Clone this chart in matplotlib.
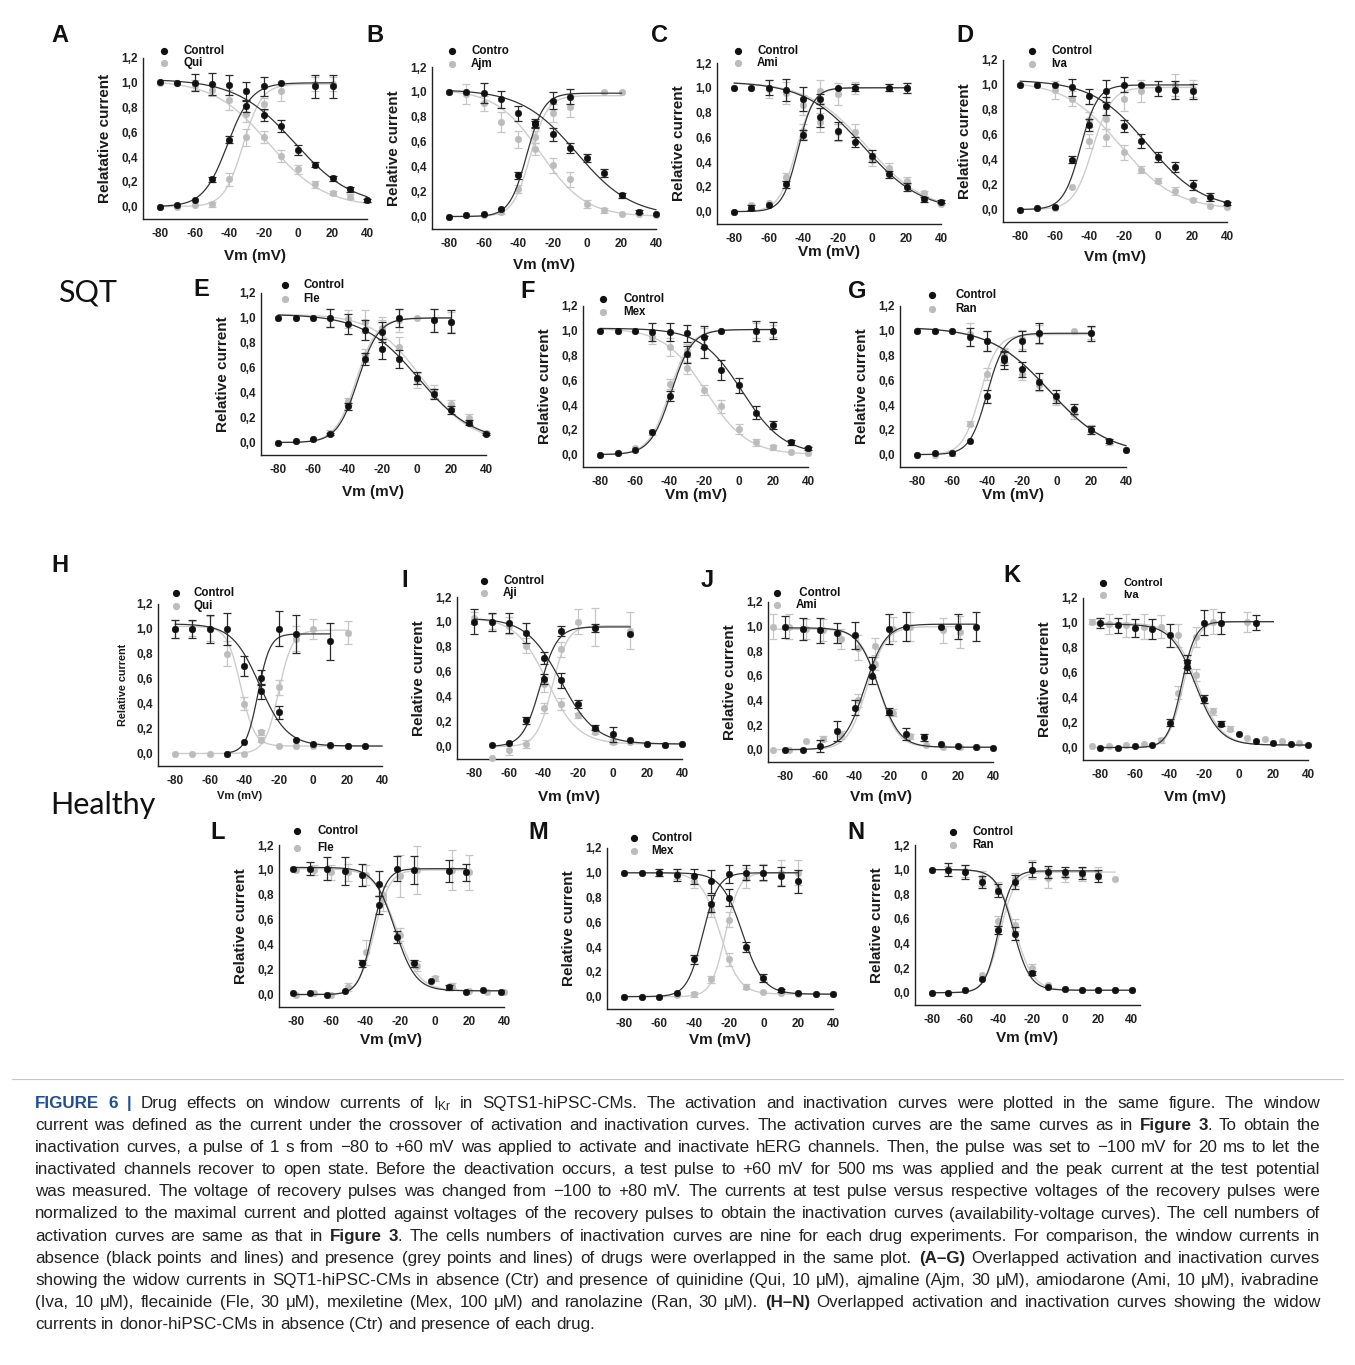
import numpy as np
import matplotlib
matplotlib.use("Agg")
import matplotlib.pyplot as plt
from matplotlib.lines import Line2D

plt.rcParams['font.family'] = ['Liberation Sans', 'DejaVu Sans']
plt.rcParams['mathtext.fontset'] = 'custom'
plt.rcParams['mathtext.rm'] = 'Liberation Sans'
plt.rcParams['mathtext.it'] = 'Liberation Sans:italic'
plt.rcParams['mathtext.bf'] = 'Liberation Sans:bold'

# ---------------- data ----------------
V13 = [-80, -70, -60, -50, -40, -30, -20, -10, 0, 10, 20, 30, 40]
J_v_drg = [-87, -78, -68, -58, -48, -38, -28, -18, -8, 1, 11, 21, 31]
K_v_drg = [-85, -75, -65, -55, -45, -35, -25, -15, -5, 5, 15, 25, 35]
L_v_ctl = [-82, -72, -62, -52, -42, -32, -22, -12, -2, 8, 18, 28, 38]

X_TICKS = [-80, -60, -40, -20, 0, 20, 40]
X_TICK_LABELS = ['-80', '-60', '-40', '-20', '0', '20', '40']
Y_TICKS = [0.0, 0.2, 0.4, 0.6, 0.8, 1.0, 1.2]
Y_TICK_LABELS = ['0,0', '0,2', '0,4', '0,6', '0,8', '1,0', '1,2']

LETTERS = ['A', 'B', 'C', 'D', 'E', 'F', 'G', 'H', 'I', 'J', 'K', 'L', 'M', 'N']
DRUG_LABELS = ['Qui', 'Ajm', 'Ami', 'Iva', 'Fle', 'Mex', 'Ran',
               'Qui', 'Aji', 'Ami', 'Iva', 'Fle', 'Mex', 'Ran']
CTRL_LABELS = ['Control', 'Contro', 'Control', 'Control', 'Control', 'Control', 'Control',
               'Control', 'Control', ' Control', 'Control', 'Control', 'Control', 'Control']
Y_LABELS = ['Relatative current'] + ['Relative current'] * 13

# Panel A (SQT, quinidine)
A_ctl_act = [0.00, 0.01, 0.05, 0.22, 0.54, 0.81, 0.97, 1.00, None, 0.97, 0.97, None, None]
A_ctl_act_err = [0, 0, 0, 0.02, 0.03, 0.05, 0.08, 0, 0, 0.09, 0.09, 0, 0]
A_ctl_inact = [1.01, 1.00, 1.00, 0.99, 0.98, 0.93, 0.74, 0.65, 0.46, 0.34, 0.23, 0.14, 0.05]
A_ctl_inact_err = [0, 0, 0.07, 0.09, 0.08, 0.08, 0.05, 0.05, 0.04, 0.02, 0.02, 0.02, 0.01]
A_drg_act = [0.00, 0.00, 0.01, 0.02, 0.22, 0.56, 0.83, 0.93, None, 0.99, 0.99, None, None]
A_drg_act_err = [0, 0, 0, 0.02, 0.05, 0.07, 0.05, 0.08, 0, 0.06, 0.06, 0, 0]
A_drg_inact = [1.00, 1.00, 0.98, 0.94, 0.86, 0.75, 0.56, 0.41, 0.30, 0.18, 0.11, 0.08, 0.05]
A_drg_inact_err = [0, 0, 0.04, 0.05, 0.08, 0.07, 0.05, 0.05, 0.04, 0.03, 0.02, 0.02, 0.01]
A_fits = [[-41, -7, 0, 1.00, -80, 20], [-2, 17, 0, 1.03, -80, 40],
          [-32, -5.5, 0, 0.99, -80, 20], [-17, 16, 0, 1.02, -80, 40]]

# Panel B (ajmaline)
B_ctl_act = [0.00, 0.01, 0.02, 0.06, 0.33, 0.74, 0.93, 0.96, None, None, None, None, None]
B_ctl_act_err = [0, 0, 0, 0, 0.03, 0.03, 0.07, 0.06, 0, 0, 0, 0, 0]
B_ctl_inact = [1.00, 1.00, 0.99, 0.94, 0.83, 0.75, 0.66, 0.55, 0.47, 0.35, 0.17, 0.04, 0.02]
B_ctl_inact_err = [0, 0, 0.08, 0.07, 0.06, 0.03, 0.05, 0.04, 0.03, 0.03, 0.02, 0.01, 0]
B_drg_act = [0.00, 0.01, 0.01, 0.04, 0.22, 0.64, 0.83, 0.88, None, 1.00, 1.00, None, None]
B_drg_act_err = [0, 0, 0, 0.02, 0.03, 0.05, 0.07, 0.08, 0, 0, 0, 0, 0]
B_drg_inact = [1.00, 0.98, 0.91, 0.76, 0.62, 0.54, 0.41, 0.30, 0.10, 0.05, 0.02, 0.02, 0.01]
B_drg_inact_err = [0, 0.08, 0.06, 0.08, 0.07, 0.05, 0.06, 0.06, 0.03, 0.02, 0, 0, 0]
B_fits = [[-35, -5, 0, 0.99, -80, 20], [-6, 16, 0, 1.02, -80, 40],
          [-33, -5, 0, 0.97, -80, 20], [-27, 13, 0, 1.02, -80, 40]]

# Panel C (amiodarone)
C_ctl_act = [0.00, 0.03, 0.05, 0.22, 0.62, 0.91, 1.00, 1.00, None, 1.00, 1.00, None, None]
C_ctl_act_err = [0, 0.02, 0, 0.03, 0.04, 0.04, 0, 0.03, 0, 0.03, 0.04, 0, 0]
C_ctl_inact = [1.00, 1.00, 1.00, 0.98, 0.91, 0.76, 0.65, 0.56, 0.45, 0.30, 0.20, 0.10, 0.08]
C_ctl_inact_err = [0, 0, 0.06, 0.09, 0.10, 0.08, 0.07, 0.04, 0.05, 0.03, 0.03, 0.02, 0.01]
C_drg_act = [0.00, 0.05, 0.07, 0.28, 0.65, 0.97, 0.95, 1.00, None, 1.00, 1.00, None, None]
C_drg_act_err = [0, 0, 0, 0.03, 0.06, 0.09, 0.09, 0.05, 0, 0.03, 0.04, 0, 0]
C_drg_inact = [1.00, 1.00, 0.99, 0.96, 0.86, 0.72, 0.64, 0.64, 0.42, 0.35, 0.25, 0.15, 0.06]
C_drg_inact_err = [0, 0, 0.07, 0.09, 0.08, 0.08, 0.07, 0.07, 0.05, 0.04, 0.03, 0.02, 0.01]
C_fits = [[-43, -4.5, 0, 1.00, -80, 20], [-5, 17, 0, 1.05, -80, 40],
          [-44, -5, 0, 1.00, -80, 20], [-3, 17, 0, 1.05, -80, 40]]

# Panel D (ivabradine)
D_ctl_act = [0.00, 0.01, 0.02, 0.40, 0.68, 0.95, 1.00, 1.00, 0.97, 0.96, 0.95, None, None]
D_ctl_act_err = [0, 0, 0, 0.03, 0.05, 0.09, 0.06, 0, 0.06, 0.07, 0.06, 0, 0]
D_ctl_inact = [1.00, 1.00, 1.00, 0.98, 0.91, 0.83, 0.67, 0.55, 0.42, 0.34, 0.20, 0.10, 0.05]
D_ctl_inact_err = [0, 0, 0, 0.07, 0.06, 0.07, 0.05, 0.06, 0.04, 0.04, 0.04, 0.03, 0.01]
D_drg_act = [0.00, 0.01, 0.01, 0.18, 0.55, 0.73, 0.89, 0.95, None, 1.00, 0.97, None, None]
D_drg_act_err = [0, 0, 0, 0, 0.06, 0.08, 0.10, 0.09, 0, 0.09, 0.07, 0, 0]
D_drg_inact = [1.00, 1.00, 0.96, 0.89, 0.72, 0.58, 0.46, 0.32, 0.23, 0.15, 0.08, 0.03, 0.02]
D_drg_inact_err = [0, 0, 0.07, 0.06, 0.06, 0.07, 0.06, 0.03, 0.02, 0.03, 0.01, 0, 0]
D_fits = [[-45, -5, 0, 1.00, -80, 20], [-6, 16, 0, 1.04, -80, 40],
          [-38, -5.5, 0, 0.98, -80, 20], [-22, 16, 0, 1.03, -80, 40]]

# Panel E (flecainide)
E_ctl_act = [0.00, 0.01, 0.03, 0.07, 0.29, 0.67, 0.89, 1.00, None, 0.98, 0.97, None, None]
E_ctl_act_err = [0, 0, 0, 0.01, 0.03, 0.05, 0.08, 0.07, 0, 0.09, 0.09, 0, 0]
E_ctl_inact = [1.00, 1.00, 1.00, 1.00, 0.95, 0.90, 0.75, 0.67, 0.52, 0.39, 0.26, 0.16, 0.07]
E_ctl_inact_err = [0, 0, 0, 0.07, 0.08, 0.08, 0.08, 0.07, 0.05, 0.04, 0.03, 0.02, 0.01]
E_drg_act = [0.00, 0.01, 0.03, 0.08, 0.33, 0.70, 0.92, 0.98, 1.00, 0.98, 0.97, None, None]
E_drg_act_err = [0, 0, 0, 0.02, 0.03, 0.05, 0.09, 0.09, 0, 0.09, 0.08, 0, 0]
E_drg_inact = [1.00, 1.00, 1.00, 1.00, 0.99, 0.97, 0.90, 0.77, 0.50, 0.41, 0.31, 0.20, 0.08]
E_drg_inact_err = [0, 0, 0, 0.07, 0.07, 0.09, 0.08, 0.08, 0.06, 0.05, 0.03, 0.03, 0.01]
E_fits = [[-34, -6, 0, 1.00, -80, 20], [1, 16, 0, 1.03, -80, 40],
          [-35, -6, 0, 1.00, -80, 20], [3, 14, 0, 1.03, -80, 40]]

# Panel F (mexiletine)
F_ctl_act = [0.00, 0.01, 0.04, 0.18, 0.47, 0.81, 0.95, 1.00, None, 1.00, 1.00, None, None]
F_ctl_act_err = [0, 0, 0, 0, 0.04, 0.07, 0.09, 0, 0, 0.08, 0.07, 0, 0]
F_ctl_inact = [1.00, 1.00, 1.00, 0.99, 0.99, 0.98, 0.87, 0.68, 0.56, 0.34, 0.24, 0.10, 0.05]
F_ctl_inact_err = [0, 0, 0, 0.07, 0.07, 0.07, 0.09, 0.08, 0.06, 0.05, 0.03, 0.02, 0.01]
F_drg_act = [0.00, 0.01, 0.05, 0.18, 0.57, 0.84, 0.95, 1.00, None, 1.00, 1.00, None, None]
F_drg_act_err = [0, 0, 0, 0.02, 0.04, 0.05, 0.07, 0, 0, 0.06, 0.05, 0, 0]
F_drg_inact = [1.00, 1.00, 1.00, 0.95, 0.87, 0.70, 0.52, 0.39, 0.21, 0.10, 0.06, 0.02, 0.01]
F_drg_inact_err = [0, 0, 0, 0.06, 0.07, 0.05, 0.04, 0.05, 0.04, 0.03, 0.02, 0, 0]
F_fits = [[-39, -6, 0, 1.01, -80, 20], [2, 12, 0, 1.02, -80, 40],
          [-40, -6, 0, 1.01, -80, 20], [-19, 12, 0, 1.02, -80, 40]]

# Panel G (ranolazine)
G_ctl_act = [0.00, 0.01, 0.01, 0.11, 0.47, 0.76, 0.92, 0.98, None, None, 0.98, None, None]
G_ctl_act_err = [0, 0, 0, 0, 0.05, 0.07, 0.08, 0.08, 0, 0, 0.06, 0, 0]
G_ctl_inact = [1.00, 1.00, 1.00, 0.95, 0.92, 0.78, 0.69, 0.59, 0.47, 0.37, 0.20, 0.11, 0.04]
G_ctl_inact_err = [0, 0, 0, 0.07, 0.08, 0.06, 0.06, 0.07, 0.05, 0.04, 0.03, 0.02, 0]
G_drg_act = [0.00, 0.00, 0.01, 0.25, 0.65, 0.80, 0.93, 0.97, None, 1.00, 0.98, None, None]
G_drg_act_err = [0, 0, 0.02, 0.02, 0.05, 0.06, 0.08, 0.08, 0, 0, 0.05, 0, 0]
G_drg_inact = [1.00, 1.00, 1.00, 0.97, 0.92, 0.80, 0.65, 0.56, 0.45, 0.33, 0.21, 0.10, 0.04]
G_drg_inact_err = [0, 0, 0, 0.09, 0.08, 0.05, 0.05, 0.05, 0.05, 0.04, 0.03, 0.02, 0]
G_fits = [[-40, -5, 0, 0.98, -80, 20], [-4, 17, 0, 1.03, -80, 40],
          [-44, -5, 0, 0.97, -80, 20], [-4, 17, 0, 1.03, -80, 40]]

# Panel H (healthy, quinidine)
H_ctl_act = [None, None, None, 0.00, 0.09, 0.61, 1.00, 0.96, None, 0.90, None, None, None]
H_ctl_act_err = [0, 0, 0, 0, 0, 0.06, 0.14, 0.15, 0, 0.15, 0, 0, 0]
H_ctl_inact = [1.00, 1.00, 1.00, 1.00, 0.70, 0.50, 0.33, 0.11, 0.08, 0.07, 0.06, 0.06, None]
H_ctl_inact_err = [0.07, 0.07, 0.11, 0.13, 0.08, 0.06, 0.05, 0, 0, 0, 0, 0, 0]
H_drg_act = [0.00, 0.00, 0.00, 0.00, 0.00, 0.11, 0.53, 0.92, 1.00, None, 0.97, None, None]
H_drg_act_err = [0, 0, 0, 0, 0, 0.02, 0.06, 0.10, 0.08, 0, 0.09, 0, 0]
H_drg_inact = [1.00, 1.00, 1.00, 0.80, 0.40, 0.17, 0.06, 0.06, 0.06, 0.06, 0.06, 0.06, None]
H_drg_inact_err = [0.07, 0.06, 0.10, 0.10, 0.05, 0.02, 0, 0, 0, 0, 0, 0, 0]
H_fits = [[-32, -3.5, 0, 0.96, -50, 10], [-31, 8, 0.06, 1.04, -80, 40],
          [-20, -4, 0, 0.99, -80, 20], [-42, 4, 0.06, 1.02, -80, 40]]

# Panel I (ajmaline)
I_ctl_act = [None, 0.01, 0.03, 0.21, 0.54, 0.93, None, 0.95, None, 0.90, None, None, None]
I_ctl_act_err = [0, 0, 0, 0.03, 0.04, 0.04, 0, 0.03, 0, 0, 0, 0, 0]
I_ctl_inact = [1.00, 1.00, 0.99, 0.91, 0.71, 0.53, 0.34, 0.15, 0.10, 0.05, 0.02, 0.01, 0.02]
I_ctl_inact_err = [0.10, 0.07, 0.08, 0.08, 0.05, 0.06, 0.03, 0.02, 0.06, 0, 0, 0, 0]
I_drg_act = [None, -0.09, -0.03, 0.02, 0.31, 0.78, 1.00, 0.96, None, 0.93, None, None, None]
I_drg_act_err = [0, 0, 0.04, 0.03, 0.04, 0.06, 0.10, 0.15, 0, 0.15, 0, 0, 0]
I_drg_inact = [1.03, 1.00, 0.97, 0.81, 0.50, 0.34, 0.25, 0.12, 0.04, 0.04, 0.02, 0.01, 0.02]
I_drg_inact_err = [0.05, 0.06, 0.07, 0.06, 0.06, 0.05, 0.02, 0.02, 0.02, 0, 0, 0, 0]
I_fits = [[-42, -5, 0, 0.96, -70, 10], [-30, 10, 0.02, 1.03, -80, 40],
          [-35, -4.5, 0, 0.97, -70, 10], [-38, 9, 0.02, 1.03, -80, 40]]

# Panel J (amiodarone)
J_ctl_act = [0.00, 0.00, 0.03, 0.15, 0.34, 0.60, 0.98, 1.00, None, 1.00, 1.00, 1.00, None]
J_ctl_act_err = [0, 0, 0.05, 0.08, 0.06, 0.07, 0.12, 0.12, 0, 0, 0.10, 0.12, 0]
J_ctl_inact = [1.00, 0.98, 0.97, 0.95, 0.93, 0.67, 0.31, 0.13, 0.10, 0.05, 0.03, 0.02, 0.01]
J_ctl_inact_err = [0.09, 0.09, 0.10, 0.08, 0.11, 0.08, 0.03, 0.05, 0.03, 0, 0, 0, 0]
J_drg_act = [0.00, 0.00, 0.07, 0.09, 0.12, 0.40, 0.84, 0.98, 1.00, None, 0.97, 0.96, None]
J_drg_act_err = [0, 0, 0, 0.02, 0.03, 0.05, 0.07, 0.10, 0.12, 0, 0.10, 0.13, 0]
J_drg_inact = [1.00, 1.00, 0.98, 0.97, 0.90, 0.83, 0.70, 0.30, 0.11, 0.04, 0.02, 0.02, 0.02]
J_drg_inact_err = [0.10, 0.10, 0.08, 0.09, 0.08, 0.10, 0.05, 0.03, 0.02, 0, 0, 0, 0]
J_fits = [[-34, -6, 0, 1.02, -80, 30], [-26, 6, 0.02, 0.99, -80, 40],
          [-33, -5.5, 0, 1.00, -87, 21], [-26, 5.5, 0.02, 0.98, -87, 40]]

# Panel K (ivabradine)
K_ctl_act = [0.00, 0.00, 0.01, 0.02, 0.20, 0.65, 1.00, 1.00, None, 1.00, None, None, None]
K_ctl_act_err = [0, 0, 0, 0, 0.03, 0.05, 0.10, 0.09, 0, 0.06, 0, 0, 0]
K_ctl_inact = [1.00, 0.98, 0.96, 0.95, 0.90, 0.69, 0.39, 0.19, 0.11, 0.05, 0.04, 0.03, 0.02]
K_ctl_inact_err = [0.04, 0.06, 0.07, 0.08, 0.09, 0.05, 0.03, 0.02, 0, 0, 0, 0, 0]
K_drg_act = [0.01, 0.01, 0.02, 0.03, 0.06, 0.44, 0.89, 1.01, None, 1.01, None, None, None]
K_drg_act_err = [0, 0, 0, 0, 0.02, 0.05, 0.08, 0.10, 0, 0.08, 0, 0, 0]
K_drg_inact = [1.01, 0.99, 0.98, 0.97, 0.97, 0.90, 0.58, 0.29, 0.15, 0.08, 0.07, 0.05, 0.04]
K_drg_inact_err = [0.02, 0.08, 0.09, 0.10, 0.09, 0.09, 0.05, 0.03, 0.02, 0, 0, 0, 0]
K_fits = [[-33, -4, 0, 1.01, -80, 20], [-25, 7, 0.02, 0.99, -80, 40],
          [-32, -4.2, 0, 1.01, -85, 20], [-24, 7, 0.02, 1.00, -85, 40]]

# Panel L (flecainide)
L_ctl_act = [0.01, 0.01, 0.00, 0.03, 0.25, 0.72, 1.01, 1.00, None, 0.99, 0.98, None, None]
L_ctl_act_err = [0, 0, 0, 0, 0.03, 0.07, 0.10, 0.11, 0, 0.09, 0.07, 0, 0]
L_ctl_inact = [1.01, 1.01, 1.01, 0.99, 0.96, 0.89, 0.46, 0.25, 0.11, 0.06, 0.02, 0.04, 0.02]
L_ctl_inact_err = [0, 0.05, 0.09, 0.11, 0.09, 0.10, 0.05, 0.03, 0, 0.02, 0, 0, 0]
L_drg_act = [0.00, 0.01, 0.00, 0.06, 0.34, 0.77, 0.95, 1.00, None, 1.00, 0.98, None, None]
L_drg_act_err = [0, 0, 0, 0.03, 0.10, 0.10, 0.17, 0.19, 0, 0.16, 0.14, 0, 0]
L_drg_inact = [1.00, 1.00, 0.98, 0.98, 0.96, 0.80, 0.48, 0.23, 0.13, 0.07, 0.03, 0.02, 0.02]
L_drg_inact_err = [0, 0.04, 0.06, 0.07, 0.08, 0.07, 0.05, 0.04, 0.02, 0.02, 0, 0, 0]
L_fits = [[-36, -4, 0, 1.01, -82, 18], [-23, 6, 0.03, 1.02, -82, 40],
          [-35, -4.5, 0, 1.00, -80, 20], [-22, 6.5, 0.03, 1.01, -80, 40]]

# Panel M (mexiletine)
M_ctl_act = [0.00, 0.00, 0.00, 0.03, 0.30, 0.75, 0.99, 1.00, 1.00, 0.97, 0.93, None, None]
M_ctl_act_err = [0, 0, 0, 0, 0.04, 0.07, 0.07, 0.06, 0.06, 0.08, 0.09, 0, 0]
M_ctl_inact = [1.00, 1.00, 1.00, 0.98, 0.97, 0.93, 0.80, 0.40, 0.15, 0.05, 0.03, 0.02, 0.02]
M_ctl_inact_err = [0, 0, 0.03, 0.05, 0.06, 0.09, 0.07, 0.04, 0.03, 0.01, 0, 0, 0]
M_drg_act = [0.00, 0.00, 0.00, 0.01, 0.02, 0.14, 0.62, 0.96, 1.00, 1.00, 1.00, None, None]
M_drg_act_err = [0, 0, 0, 0, 0.02, 0.03, 0.06, 0.08, 0.07, 0.10, 0.10, 0, 0]
M_drg_inact = [1.00, 1.00, 1.00, 0.99, 0.93, 0.70, 0.30, 0.08, 0.04, 0.03, 0.02, 0.02, 0.02]
M_drg_inact_err = [0, 0, 0.03, 0.04, 0.05, 0.06, 0.05, 0.02, 0, 0, 0, 0, 0]
M_fits = [[-35, -4.5, 0, 1.00, -80, 20], [-12, 6, 0.02, 1.00, -80, 40],
          [-22, -4, 0, 1.00, -80, 20], [-25, 5.5, 0.02, 1.00, -80, 40]]

# Panel N (ranolazine)
N_ctl_act = [0.00, 0.00, 0.02, 0.11, 0.51, 0.90, 1.00, 0.98, 0.98, 0.97, 0.95, None, None]
N_ctl_act_err = [0, 0, 0, 0, 0.03, 0.06, 0.06, 0.05, 0.04, 0.05, 0.05, 0, 0]
N_ctl_inact = [1.00, 1.00, 0.98, 0.90, 0.83, 0.48, 0.16, 0.05, 0.03, 0.02, 0.02, 0.02, 0.02]
N_ctl_inact_err = [0, 0.05, 0.06, 0.05, 0.05, 0.05, 0.02, 0, 0, 0, 0, 0, 0]
N_drg_act = [0.00, 0.00, 0.02, 0.14, 0.58, 0.92, 1.00, 0.93, 0.95, 0.96, 0.97, 0.92, None]
N_drg_act_err = [0, 0, 0, 0, 0.04, 0.05, 0.08, 0.08, 0.05, 0.05, 0.05, 0, 0]
N_drg_inact = [1.00, 1.00, 0.99, 0.93, 0.85, 0.55, 0.20, 0.06, 0.03, 0.02, 0.02, 0.02, 0.02]
N_drg_inact_err = [0, 0.03, 0.05, 0.06, 0.05, 0.05, 0.03, 0, 0, 0, 0, 0, 0]
N_fits = [[-40, -4, 0, 0.99, -80, 20], [-31, 5, 0.02, 1.00, -80, 40],
          [-39, -4.5, 0, 0.98, -80, 30], [-30, 5.5, 0.02, 1.00, -80, 40]]

V_CTL = {p: V13 for p in LETTERS}
V_DRG = {p: V13 for p in LETTERS}
V_DRG['J'] = J_v_drg
V_DRG['K'] = K_v_drg
V_CTL['L'] = L_v_ctl

SERIES = ['ctl_act', 'ctl_act_err', 'ctl_inact', 'ctl_inact_err',
          'drg_act', 'drg_act_err', 'drg_inact', 'drg_inact_err', 'fits']
PANEL_DATA = {p: {s: globals()[f"{p}_{s}"] for s in SERIES} for p in LETTERS}

CAPTION = [
    [("FIGURE 6 |", 'fb'), (" Drug effects on window currents of I$_{\\mathrm{Kr}}$ in SQTS1-hiPSC-CMs. The activation and inactivation curves were plotted in the same figure. The window", 'n')],
    [("current was defined as the current under the crossover of activation and inactivation curves. The activation curves are the same curves as in ", 'n'), ("Figure 3", 'b'), (". To obtain the", 'n')],
    [("inactivation curves, a pulse of 1 s from \u221280 to +60 mV was applied to activate and inactivate hERG channels. Then, the pulse was set to \u2212100 mV for 20 ms to let the", 'n')],
    [("inactivated channels recover to open state. Before the deactivation occurs, a test pulse to +60 mV for 500 ms was applied and the peak current at the test potential", 'n')],
    [("was measured. The voltage of recovery pulses was changed from \u2212100 to +80 mV. The currents at test pulse versus respective voltages of the recovery pulses were", 'n')],
    [("normalized to the maximal current and plotted against voltages of the recovery pulses to obtain the inactivation curves (availability-voltage curves). The cell numbers of", 'n')],
    [("activation curves are same as that in ", 'n'), ("Figure 3", 'b'), (". The cells numbers of inactivation curves are nine for each drug experiments. For comparison, the window currents in", 'n')],
    [("absence (black points and lines) and presence (grey points and lines) of drugs were overlapped in the same plot. ", 'n'), ("(A\u2013G)", 'b'), (" Overlapped activation and inactivation curves", 'n')],
    [("showing the widow currents in SQT1-hiPSC-CMs in absence (Ctr) and presence of quinidine (Qui, 10 \u03bcM), ajmaline (Ajm, 30 \u03bcM), amiodarone (Ami, 10 \u03bcM), ivabradine", 'n')],
    [("(Iva, 10 \u03bcM), flecainide (Fle, 30 \u03bcM), mexiletine (Mex, 100 \u03bcM) and ranolazine (Ran, 30 \u03bcM). ", 'n'), ("(H\u2013N)", 'b'), (" Overlapped activation and inactivation curves showing the widow", 'n')],
    [("currents in donor-hiPSC-CMs in absence (Ctr) and presence of each drug.", 'n')],
]

# ---------------- layout (pixels) ----------------
W, H = 1355, 1365
AX_BOX = {  # left, top, right, bottom
    'A': (143, 58, 367, 219), 'B': (432, 67, 656, 229), 'C': (717, 63, 941, 224),
    'D': (1003, 60, 1227, 222), 'E': (261, 293, 486, 455), 'F': (583, 306, 808, 467),
    'G': (900, 306, 1126, 467), 'H': (158, 604, 382, 766), 'I': (457, 597, 682, 759),
    'J': (768, 602, 993, 762), 'K': (1083, 598, 1308, 760), 'L': (279, 845, 504, 1007),
    'M': (607, 848, 833, 1009), 'N': (915, 845, 1140, 1005),
}
XLIM = {p: (-90, 40) for p in LETTERS}
XLIM['N'] = (-90, 45)
LETTER_POS = {'A': (60, 35), 'B': (375, 35), 'C': (660, 35), 'D': (965, 35),
              'E': (201, 290), 'F': (528, 292), 'G': (857, 291),
              'H': (60, 565), 'I': (405, 580), 'J': (707, 580), 'K': (1012, 575),
              'L': (218, 832), 'M': (538, 832), 'N': (856, 832)}
LEGEND_POS = {  # marker x, text x, y control, y drug
    'A': (164, 183, 51, 63), 'B': (452, 471, 51, 64), 'C': (738, 757, 51, 63),
    'D': (1032, 1051, 51, 64), 'E': (285, 303, 285, 299), 'F': (603, 623, 299, 312),
    'G': (932, 955, 295, 309), 'H': (176, 194, 593, 606), 'I': (484, 503, 581, 593),
    'J': (777, 796, 593, 605), 'K': (1103, 1123, 583, 595), 'L': (297, 317, 831, 848),
    'M': (634, 651, 838, 851), 'N': (953, 972, 832, 845),
}
XLABEL_Y = {'A': 256, 'B': 265, 'C': 252, 'D': 257, 'E': 492, 'F': 495, 'G': 495,
            'H': 796, 'I': 797, 'J': 797, 'K': 797, 'L': 1040, 'M': 1040, 'N': 1038}
XLABEL_X = {'H': 240}

BLACK = '#111111'
GREY = '#bcbcbc'
BLACK_LINE = '#333333'
GREY_LINE = '#cdcdcd'
BLACK_ERR = '#2a2a2a'
GREY_ERR = '#c6c6c6'


def fx(x):
    return x / W


def fy(y):
    return 1 - y / H


def boltz(v, p):
    vh, k, bot, top = p[:4]
    return bot + (top - bot) / (1 + np.exp((v - vh) / k))


def draw_series(ax, v, y, e, color, ecolor, z):
    v = np.asarray(v, float)
    y = np.array([np.nan if a is None else a for a in y], float)
    e = np.asarray(e, float)
    m = ~np.isnan(y)
    em = m & (e > 0)
    if em.any():
        ax.errorbar(v[em], y[em], yerr=e[em], fmt='none', ecolor=ecolor,
                    elinewidth=0.9, capsize=2.6, capthick=0.9, zorder=z, clip_on=False)
    ax.plot(v[m], y[m], 'o', ms=4.7, color=color, mec=color, mew=0.4,
            zorder=z + 0.5, clip_on=False)


def draw_fit(ax, p, color, lw, z):
    v = np.linspace(p[4], p[5], 400)
    ax.plot(v, boltz(v, p), '-', color=color, lw=lw, zorder=z, clip_on=False)


fig = plt.figure(figsize=(W / 100, H / 100), dpi=100)

for idx, p in enumerate(LETTERS):
    d = PANEL_DATA[p]
    l, t, r, b = AX_BOX[p]
    ax = fig.add_axes([fx(l), fy(b), (r - l) / W, (b - t) / H])
    ax.set_xlim(*XLIM[p])
    ax.set_ylim(-0.1, 1.2)
    for s in ['top', 'right']:
        ax.spines[s].set_visible(False)
    for s in ['left', 'bottom']:
        ax.spines[s].set_linewidth(1.0)
        ax.spines[s].set_color('#222222')
    ax.set_xticks(X_TICKS)
    ax.set_xticklabels(X_TICK_LABELS, fontsize=8.5, fontweight='bold')
    ax.set_yticks(Y_TICKS)
    ax.set_yticklabels(Y_TICK_LABELS, fontsize=8.5, fontweight='bold')
    ax.tick_params(axis='x', length=0, pad=6.5, colors='#222222')
    ax.tick_params(axis='y', length=0, pad=3.5, colors='#222222')
    ax.patch.set_alpha(0)

    fits = d['fits']
    # grey (drug) first
    draw_fit(ax, fits[2], GREY_LINE, 1.0, 2)
    draw_fit(ax, fits[3], GREY_LINE, 1.0, 2)
    draw_series(ax, V_DRG[p], d['drg_act'], d['drg_act_err'], GREY, GREY_ERR, 3)
    draw_series(ax, V_DRG[p], d['drg_inact'], d['drg_inact_err'], GREY, GREY_ERR, 3)
    # black (control)
    draw_fit(ax, fits[0], BLACK_LINE, 0.9, 5)
    draw_fit(ax, fits[1], BLACK_LINE, 0.9, 5)
    draw_series(ax, V_CTL[p], d['ctl_act'], d['ctl_act_err'], BLACK, BLACK_ERR, 6)
    draw_series(ax, V_CTL[p], d['ctl_inact'], d['ctl_inact_err'], BLACK, BLACK_ERR, 6)

    small = (p == 'H')
    # y label
    fig.text(fx(l - 38 if not small else l - 35), fy((t + b) / 2), Y_LABELS[idx],
             rotation=90, ha='center', va='center',
             fontsize=(7.8 if small else 11), fontweight='bold', color='#1a1a1a')
    # x label
    xc = XLABEL_X.get(p, (l + r) / 2)
    fig.text(fx(xc), fy(XLABEL_Y[p]), 'Vm (mV)', ha='center', va='center',
             fontsize=(8 if small else 11), fontweight='bold', color='#1a1a1a')
    # panel letter
    lx, ly = LETTER_POS[p]
    fig.text(fx(lx), fy(ly), p, ha='center', va='center', fontsize=17,
             fontweight='bold', color='#111111')
    # legend
    mx, tx, y1, y2 = LEGEND_POS[p]
    fig.add_artist(Line2D([fx(mx)], [fy(y1)], marker='o', ms=4.2, color=BLACK,
                          ls='none', transform=fig.transFigure))
    fig.add_artist(Line2D([fx(mx)], [fy(y2)], marker='o', ms=4.2, color=GREY,
                          ls='none', transform=fig.transFigure))
    lfs = 8.0 if p == 'K' else 8.3
    fig.text(fx(tx), fy(y1), CTRL_LABELS[idx], ha='left', va='center', fontsize=lfs,
             fontweight='bold', color='#111111')
    fig.text(fx(tx), fy(y2), DRUG_LABELS[idx], ha='left', va='center', fontsize=lfs,
             fontweight='bold', color='#111111')

# group labels
fig.text(fx(88), fy(293), 'SQT', ha='center', va='center', fontsize=22,
         family=['Lato', 'DejaVu Sans'], color='#111111')
fig.text(fx(103), fy(805), 'Healthy', ha='center', va='center', fontsize=22,
         family=['Lato', 'DejaVu Sans'], color='#111111')

# caption separator
fig.add_artist(Line2D([fx(12), fx(1343)], [fy(1079), fy(1079)], color='#c8c8c8',
                      lw=0.8, transform=fig.transFigure))

# ---------------- caption with justification ----------------
STYLE = {'n': dict(fontweight='normal', color='#222222'),
         'b': dict(fontweight='bold', color='#222222'),
         'fb': dict(fontweight='bold', color='#1f4e96')}


def tokenize(segs):
    words = []
    prev_space = True
    for text, style in segs:
        parts = text.split(' ')
        for j, part in enumerate(parts):
            if part == '':
                continue
            if j == 0 and not prev_space and words:
                words[-1].append((part, style))
            else:
                words.append([(part, style)])
        prev_space = text.endswith(' ')
    return words


renderer = fig.canvas.get_renderer()


def measure(piece, style, fs):
    t = fig.text(0, 0, piece, fontsize=fs, **STYLE[style])
    w = t.get_window_extent(renderer).width
    t.remove()
    return w


tok_lines = [tokenize(s) for s in CAPTION]
X0, X1 = 35, 1320
base_fs = 10.0
max_nat = 0
for words in tok_lines[:-1]:
    tot = sum(measure(pc, st, base_fs) for w in words for pc, st in w)
    tot += (len(words) - 1) * 0.278 * base_fs * 100 / 72
    max_nat = max(max_nat, tot)
fs = min(14.0, base_fs * (X1 - X0) / max_nat * 0.985)

Y0, DY = 1108, 22.1
for i, words in enumerate(tok_lines):
    widths = [[measure(pc, st, fs) for pc, st in w] for w in words]
    wsum = sum(sum(w) for w in widths)
    nat_gap = 0.278 * fs * 100 / 72
    if i < len(tok_lines) - 1 and len(words) > 1:
        gap = (X1 - X0 - wsum) / (len(words) - 1)
    else:
        gap = nat_gap
    x = X0
    yb = Y0 + i * DY
    for w, ws in zip(words, widths):
        for (pc, st), pw in zip(w, ws):
            fig.text(fx(x), fy(yb), pc, fontsize=fs, ha='left', va='baseline', **STYLE[st])
            x += pw
        x += gap

fig.savefig('out.png', dpi=100)
